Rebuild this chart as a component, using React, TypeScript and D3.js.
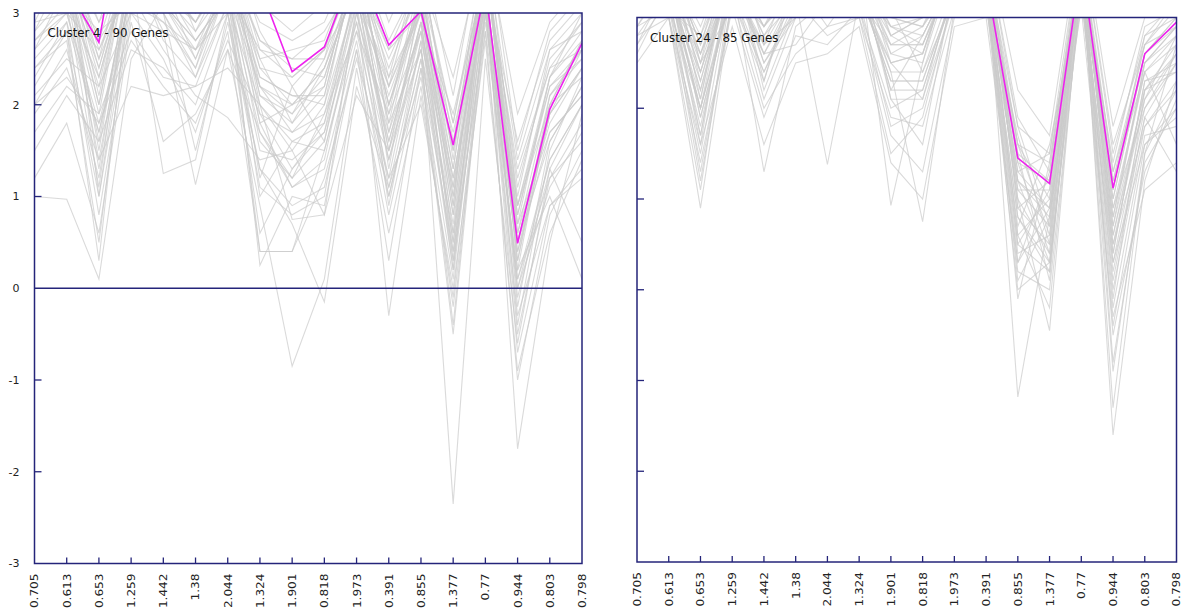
import React from "react";
import * as d3 from "d3";

const categories = ["0.705","0.613","0.653","1.259","1.442","1.38","2.044","1.324","1.901","0.818","1.973","0.391","0.855","1.377","0.77","0.944","0.803","0.798"];
const yTickValues = [3, 2, 1, 0, -1, -2, -3];

const leftTitle = "Cluster 4 - 90 Genes";
const rightTitle = "Cluster 24 - 85 Genes";

const leftHighlight = [3.4, 3.28, 2.68, 4.7, 3.5, 3.6, 3.4, 3.29, 2.36, 2.63, 3.54, 2.65, 3.02, 1.56, 3.27, 0.49, 1.95, 2.67];
const rightHighlight = [3.5, 3.6, 3.4, 3.7, 3.5, 3.6, 3.7, 3.5, 3.6, 3.4, 3.6, 3.43, 1.45, 1.17, 3.6, 1.12, 2.6, 2.95];

const leftGenes = [
  [3.4, 3.3, 2.2, 3.8, 3.2, 2.9, 3.6, 2.1, 1.8, 2.4, 3.5, 2.0, 3.1, 0.9, 3.6, 0.6, 2.1, 2.6],
  [2.8, 3.5, 1.5, 3.6, 3.0, 2.4, 3.3, 1.6, 1.2, 1.9, 3.2, 1.4, 2.8, 0.2, 3.4, -0.2, 1.6, 2.2],
  [3.1, 3.2, 2.7, 3.3, 3.5, 3.1, 3.8, 2.6, 2.5, 2.8, 3.4, 2.5, 3.3, 1.8, 3.5, 1.2, 2.4, 2.9],
  [1.0, 0.97, 0.1, 2.5, 3.1, 2.6, 3.2, 0.4, 0.4, 1.5, 2.9, 1.0, 2.5, -0.4, 3.1, -0.5, 1.2, 1.8],
  [2.0, 2.6, 1.2, 3.4, 1.25, 1.4, 3.0, 1.1, 0.8, 1.0, 3.0, 1.6, 2.9, 0.8, 3.3, 0.3, 1.9, 2.4],
  [3.6, 3.8, 2.9, 3.9, 3.4, 3.3, 3.9, 2.8, 2.2, 2.6, 3.7, 2.3, 3.6, 1.4, 3.9, 0.9, 2.3, 3.0],
  [2.5, 2.9, 0.8, 3.0, 2.8, 1.13, 2.6, 0.9, -0.85, 0.1, 2.4, 0.6, 2.2, -0.2, 2.8, -1.0, 0.8, 1.5],
  [1.7, 2.2, 1.9, 2.8, 2.3, 2.2, 3.1, 2.0, 1.6, 1.5, 2.8, 1.2, 2.9, 0.5, 3.2, 0.1, 1.4, 2.0],
  [3.2, 3.6, 2.4, 3.7, 3.6, 2.8, 3.5, 1.8, 2.0, 2.2, 3.6, 1.9, 3.4, 1.1, 3.7, 0.5, 2.0, 2.7],
  [2.9, 3.0, 1.8, 3.2, 2.6, 2.1, 1.86, 1.4, 1.5, 0.8, 3.1, 2.2, 3.0, 1.2, 3.1, 0.8, 2.2, 2.5],
  [3.3, 3.7, 2.6, 3.5, 3.3, 3.0, 3.7, 2.4, 2.3, 2.6, 3.5, 2.6, 3.0, 1.5, 3.3, 0.5, 1.9, 2.6],
  [2.2, 2.8, 1.0, 3.1, 2.9, 2.6, 3.4, 0.25, 1.0, 0.9, 2.6, 0.3, 2.4, -0.5, 3.0, -0.3, 0.9, 1.2],
  [3.5, 3.1, 2.3, 3.6, 3.3, 2.7, 3.2, 2.2, 1.9, 2.5, 3.8, 1.7, 3.2, 0.6, 3.5, 1.0, 2.6, 2.8],
  [2.6, 3.3, 1.6, 3.5, 3.7, 3.2, 3.6, 1.9, 1.3, 1.8, 3.3, 0.9, 2.7, -2.35, 2.5, -0.6, 1.3, 0.5],
  [3.0, 3.4, 2.0, 3.9, 3.1, 2.5, 3.3, 2.3, 2.1, 2.0, 3.2, 2.1, 3.1, 1.0, 3.4, -1.75, 0.5, 1.9],
  [1.9, 2.4, 1.4, 2.2, 2.1, 2.2, 2.4, 2.0, 0.75, 0.8, 2.1, 1.5, 2.6, 0.3, 2.9, 0.4, 1.7, 2.1],
  [3.7, 3.9, 3.2, 4.0, 3.8, 3.6, 4.0, 3.1, 2.8, 3.1, 3.9, 2.9, 3.7, 2.1, 4.0, 1.5, 2.8, 3.2],
  [2.4, 2.7, 0.5, 3.3, 3.0, 1.5, 2.9, 1.3, 0.7, -0.15, 2.2, 1.1, 2.3, 0.1, 3.2, 0.0, 1.1, 1.7],
  [3.1, 3.5, 2.5, 3.4, 3.5, 3.1, 3.4, 2.5, 2.6, 2.7, 3.6, 2.2, 3.5, 1.6, 3.6, 1.1, 2.5, 2.9],
  [2.7, 3.1, 1.1, 3.6, 2.7, 2.3, 3.1, 1.5, 1.4, 1.7, 3.3, 1.8, 2.6, 0.7, 3.3, -0.4, 1.5, 2.3],
  [3.4, 3.2, 2.8, 3.1, 3.3, 2.9, 3.5, 2.7, 2.4, 2.3, 3.4, 2.4, 3.3, 1.3, 3.7, 0.7, 2.3, 2.8],
  [1.2, 1.8, 0.6, 2.9, 1.6, 1.9, 2.6, 1.7, 1.1, 1.3, 2.7, 0.8, 2.4, 0.4, 2.8, 0.2, 1.0, 0.1],
  [2.9, 3.6, 2.1, 3.8, 3.4, 3.4, 3.8, 2.2, 1.7, 2.1, 3.5, 2.0, 3.0, 0.8, 3.5, 0.6, 1.8, 2.4],
  [3.3, 3.4, 1.3, 3.5, 3.2, 2.8, 3.3, 1.2, 2.2, 1.6, 3.1, -0.3, 2.1, -0.1, 3.0, 0.5, 1.6, 2.2],
  [2.3, 2.9, 1.7, 3.2, 2.9, 2.4, 3.5, 2.4, 2.0, 2.4, 3.3, 1.6, 2.9, 1.9, 3.4, 1.3, 2.4, 2.6],
  [3.6, 3.7, 2.5, 3.9, 3.6, 3.2, 3.7, 2.0, 1.5, 2.0, 3.6, 1.3, 3.2, 0.9, 3.8, 0.2, 2.0, 2.7],
  [2.1, 2.5, 2.2, 3.0, 2.5, 1.7, 2.8, 0.4, 0.4, 1.2, 2.5, 1.2, 2.0, 0.0, 2.7, -0.9, 0.6, 1.4],
  [3.0, 3.3, 1.9, 3.7, 3.5, 3.0, 3.6, 2.1, 1.9, 2.3, 3.4, 1.5, 3.1, 0.3, 3.6, 0.3, 2.1, 2.5],
  [2.6, 3.0, 2.6, 3.3, 3.1, 2.7, 3.2, 2.6, 2.3, 2.6, 3.2, 2.3, 3.0, 1.7, 3.3, 1.6, 2.7, 3.1],
  [3.2, 3.8, 1.0, 3.4, 3.3, 2.5, 3.4, 1.8, 1.1, 1.4, 3.0, 1.7, 2.8, 0.5, 3.4, -0.1, 1.3, 2.0],
  [1.5, 2.1, 1.6, 2.6, 2.4, 2.0, 3.0, 1.3, 0.9, 1.1, 2.6, 1.0, 2.5, 0.6, 3.0, 0.1, 1.2, 1.6],
  [3.5, 3.6, 2.7, 3.8, 3.2, 3.0, 3.6, 2.9, 2.7, 2.9, 3.7, 2.7, 3.4, 2.3, 3.8, 1.9, 2.9, 3.3],
  [2.8, 3.2, 1.4, 3.3, 3.0, 2.3, 3.3, 1.0, 1.6, 1.8, 3.1, 1.1, 2.7, 1.1, 3.2, 0.7, 1.7, 2.1],
  [3.1, 3.4, 2.4, 3.6, 3.4, 2.9, 3.5, 2.3, 2.1, 2.1, 3.5, 2.0, 3.2, 1.5, 3.5, 0.9, 2.2, 2.6],
  [2.4, 2.8, 0.3, 3.5, 2.8, 2.6, 3.0, 0.6, 1.3, 1.7, 2.9, 1.4, 2.6, 0.2, 3.1, -0.7, 0.9, 1.3],
  [3.3, 3.5, 2.0, 3.7, 3.6, 3.3, 3.7, 2.5, 1.8, 2.2, 3.6, 1.8, 3.3, 1.0, 3.6, 0.4, 1.9, 2.4],
  [2.0, 2.3, 1.8, 2.7, 2.2, 1.8, 2.7, 1.9, 1.7, 1.9, 2.8, 1.9, 2.8, 1.2, 3.1, 0.9, 2.0, 2.3],
  [3.4, 3.6, 2.9, 3.5, 3.0, 3.2, 3.6, 2.7, 2.5, 2.5, 3.4, 2.6, 3.4, 1.8, 3.7, 1.4, 2.6, 3.0],
  [2.7, 3.0, 1.7, 3.4, 3.1, 2.7, 3.2, 1.7, 1.2, 1.6, 3.2, 1.5, 2.9, 0.4, 3.3, 0.0, 1.4, 2.0],
  [3.0, 3.5, 2.3, 3.6, 3.3, 2.9, 3.4, 2.2, 2.0, 2.4, 3.3, 2.2, 3.1, 1.3, 3.5, 0.8, 2.3, 2.7],
];

const rightGenes = [
  [3.4, 3.2, 2.4, 3.5, 2.6, 3.3, 3.1, 3.6, 2.8, 3.0, 3.4, 3.6, 1.2, 0.9, 3.7, 0.9, 2.4, 2.8],
  [3.1, 3.5, 1.9, 3.3, 2.9, 3.6, 3.4, 3.3, 2.5, 2.6, 3.7, 3.3, 0.5, 1.1, 3.5, 0.3, 2.0, 2.5],
  [2.8, 3.3, 2.1, 3.7, 3.1, 3.0, 3.6, 3.5, 3.1, 2.4, 3.2, 3.5, 1.6, 0.6, 3.8, 1.3, 2.7, 3.1],
  [3.6, 3.0, 0.9, 3.2, 2.3, 3.4, 2.9, 3.4, 2.2, 2.8, 3.5, 3.2, 0.0, 0.3, 3.3, -0.4, 1.6, 2.0],
  [3.2, 3.6, 2.7, 3.8, 3.3, 3.5, 3.8, 3.7, 3.2, 3.3, 3.6, 3.8, 1.8, 1.5, 3.9, 1.5, 2.8, 3.2],
  [2.9, 3.1, 1.5, 3.4, 1.3, 2.9, 3.2, 3.1, 2.0, 2.2, 3.3, 3.4, 0.8, 0.2, 3.6, 0.6, 2.2, 2.6],
  [3.5, 3.4, 2.2, 3.6, 2.8, 3.2, 1.38, 3.2, 2.7, 2.9, 3.5, 3.6, -1.18, 0.8, 3.4, 0.1, 1.9, 1.3],
  [3.0, 3.7, 2.5, 3.1, 3.0, 3.7, 3.5, 3.6, 0.93, 2.5, 3.8, 3.5, 1.0, -0.45, 3.5, 0.8, 2.5, 2.9],
  [3.3, 3.2, 1.7, 3.5, 2.5, 3.1, 3.3, 3.4, 2.4, 0.75, 3.1, 3.3, 0.3, 1.3, 3.7, -1.6, 1.2, 2.3],
  [2.7, 3.4, 2.0, 3.3, 2.7, 3.3, 3.0, 3.3, 2.9, 2.7, 3.6, 3.7, 1.4, 0.4, 3.6, -1.3, 1.5, 2.7],
  [3.4, 3.6, 2.6, 3.7, 3.2, 3.5, 3.7, 3.5, 3.0, 3.1, 3.4, 3.4, 1.5, 1.2, 3.6, 1.1, 2.6, 2.9],
  [3.1, 3.0, 1.1, 3.4, 2.1, 3.0, 3.1, 3.2, 1.8, 2.0, 3.2, 3.5, 0.6, 1.0, 3.4, 0.4, 2.3, 2.4],
  [3.7, 3.5, 2.8, 3.9, 3.4, 3.6, 3.6, 3.8, 3.3, 3.4, 3.7, 3.9, 2.2, 1.7, 4.0, 1.8, 3.0, 3.3],
  [2.6, 3.3, 1.3, 3.2, 2.4, 3.2, 2.8, 3.0, 1.5, 1.9, 3.3, 3.2, 0.2, 0.0, 3.3, -0.2, 1.7, 1.8],
  [3.2, 3.7, 2.3, 3.6, 2.9, 3.4, 3.4, 3.6, 2.6, 2.8, 3.5, 3.6, 1.1, 0.7, 3.7, 0.5, 2.1, 2.6],
  [3.5, 3.1, 2.0, 3.3, 2.6, 2.7, 3.2, 3.3, 2.3, 2.3, 3.3, 3.4, -0.1, 1.4, 3.5, 1.0, 2.6, 3.0],
  [2.9, 3.5, 2.6, 3.5, 3.1, 3.3, 3.5, 3.4, 2.8, 2.6, 3.6, 3.3, 1.7, 0.5, 3.6, 0.0, 1.8, 2.2],
  [3.3, 3.4, 1.6, 3.7, 2.2, 3.1, 3.3, 3.5, 2.1, 1.6, 3.4, 3.7, 0.9, 1.2, 3.8, -0.8, 1.4, 2.0],
  [3.6, 3.6, 2.9, 3.8, 3.5, 3.7, 3.7, 3.7, 3.1, 3.2, 3.8, 3.5, 1.3, 0.9, 3.5, 1.4, 2.9, 3.1],
  [3.0, 3.2, 1.8, 3.4, 2.7, 3.0, 3.0, 3.2, 2.5, 2.1, 3.2, 3.3, 0.4, 0.6, 3.4, 0.2, 1.9, 2.5],
  [3.4, 3.5, 2.4, 3.6, 3.0, 3.5, 3.5, 3.6, 2.9, 3.0, 3.5, 3.6, 1.5, 0.1, 3.7, 0.7, 2.2, 2.7],
  [2.8, 3.0, 1.4, 3.1, 1.9, 2.8, 2.7, 3.1, 1.7, 1.3, 3.0, 3.2, 0.7, 1.6, 3.3, 1.2, 2.4, 1.6],
  [3.2, 3.4, 2.2, 3.5, 2.8, 3.4, 3.3, 3.4, 2.6, 2.5, 3.6, 3.5, 1.0, 0.4, 3.6, -0.5, 1.3, 2.1],
  [3.5, 3.8, 2.5, 3.9, 3.2, 3.6, 3.6, 3.7, 3.0, 2.9, 3.7, 3.8, 1.9, 1.3, 3.9, 1.6, 2.7, 3.2],
  [3.1, 3.3, 2.0, 3.4, 2.6, 3.2, 3.2, 3.3, 2.4, 2.4, 3.4, 3.4, 0.1, 0.8, 3.5, 0.9, 2.0, 2.6],
  [2.7, 3.2, 1.2, 3.2, 2.0, 2.6, 2.9, 3.0, 1.9, 1.8, 3.1, 3.1, 1.2, 0.3, 3.2, 0.3, 1.6, 1.9],
  [3.3, 3.6, 2.7, 3.7, 3.3, 3.5, 3.5, 3.6, 3.2, 3.1, 3.6, 3.7, 1.6, 1.0, 3.8, 1.1, 2.8, 3.0],
  [3.6, 3.3, 2.3, 3.5, 2.9, 3.3, 3.4, 3.5, 2.7, 2.7, 3.5, 3.5, 0.6, -0.2, 3.4, -0.1, 2.2, 2.4],
  [3.0, 3.5, 1.9, 3.3, 2.4, 3.1, 3.1, 3.4, 2.2, 2.2, 3.3, 3.3, 1.3, 1.5, 3.6, 0.6, 2.1, 2.8],
  [3.4, 3.1, 2.8, 3.6, 3.1, 3.4, 3.6, 3.8, 2.8, 3.0, 3.7, 3.6, 1.8, 0.7, 3.7, 1.3, 2.5, 2.9],
  [2.5, 3.0, 1.6, 2.9, 1.6, 2.5, 2.6, 2.9, 1.4, 1.0, 2.9, 3.0, 0.3, 0.9, 3.1, -0.3, 1.1, 1.4],
  [3.2, 3.4, 2.5, 3.5, 3.0, 3.3, 3.3, 3.5, 2.9, 2.8, 3.5, 3.4, 1.1, 1.1, 3.5, 0.8, 2.4, 2.7],
  [3.5, 3.7, 2.1, 3.8, 2.7, 3.6, 3.7, 3.6, 2.5, 2.6, 3.6, 3.7, 0.9, 0.5, 3.8, 0.4, 2.3, 2.5],
  [3.1, 3.2, 2.6, 3.4, 3.2, 3.2, 3.2, 3.2, 3.0, 2.9, 3.4, 3.5, 1.4, 1.2, 3.6, 1.0, 2.6, 3.0],
  [2.9, 3.4, 1.7, 3.6, 2.5, 3.0, 3.4, 3.3, 2.3, 2.3, 3.3, 3.4, 0.5, 0.2, 3.5, -0.9, 1.5, 2.2],
  [3.3, 3.5, 2.4, 3.5, 2.9, 3.4, 3.5, 3.4, 2.7, 2.7, 3.5, 3.6, 1.6, 1.4, 3.7, 1.2, 2.7, 2.9],
  [3.6, 3.3, 2.0, 3.7, 2.3, 3.5, 3.3, 3.7, 2.1, 2.1, 3.4, 3.3, 0.8, 0.3, 3.4, 0.5, 1.8, 2.3],
  [3.0, 3.6, 2.7, 3.4, 3.3, 3.1, 3.6, 3.5, 3.1, 3.0, 3.6, 3.5, 1.2, 0.8, 3.6, 0.7, 2.5, 2.8],
];

const AXIS = "#24247a";
const FONT = "'DejaVu Sans', Verdana, sans-serif";

type PanelProps = {
  id: string;
  x0: number; x1: number; y0: number; y1: number;
  title: string;
  genes: number[][];
  highlight: number[];
  showYLabels: boolean;
  showZero: boolean;
};

function Panel(p: PanelProps) {
  const idx = categories.map((_, i) => i);
  const x = d3.scalePoint<number>().domain(idx).range([p.x0, p.x1]);
  const y = d3.scaleLinear().domain([-3, 3]).range([p.y1, p.y0]);
  const line = d3.line<number>().x((_, i) => x(i) as number).y((d) => y(d));
  const clipId = `clip-${p.id}`;
  const innerY = p.showZero ? [2, 1, -1, -2] : [2, 1, 0, -1, -2];
  return (
    <g>
      <defs>
        <clipPath id={clipId}>
          <rect x={p.x0} y={p.y0} width={p.x1 - p.x0} height={p.y1 - p.y0} />
        </clipPath>
      </defs>
      <g clipPath={`url(#${clipId})`}>
        {p.genes.map((g, k) => (
          <path key={k} d={line(g) || ""} fill="none" stroke="#cbcbcb" strokeOpacity={0.7} strokeWidth={1.1} />
        ))}
        <path d={line(p.highlight) || ""} fill="none" stroke="#ee22ee" strokeWidth={1.6} />
      </g>
      {p.showZero && (
        <line x1={p.x0} x2={p.x1} y1={y(0)} y2={y(0)} stroke={AXIS} strokeWidth={1.4} />
      )}
      <rect x={p.x0} y={p.y0} width={p.x1 - p.x0} height={p.y1 - p.y0} fill="none" stroke={AXIS} strokeWidth={1.5} />
      {innerY.map((v) => (
        <line key={v} x1={p.x0} x2={p.x0 + 7} y1={y(v)} y2={y(v)} stroke={AXIS} strokeWidth={1.3} />
      ))}
      {idx.slice(1, idx.length - 1).map((i) => (
        <line key={i} x1={x(i)} x2={x(i)} y1={p.y1} y2={p.y1 - 6} stroke={AXIS} strokeWidth={1.3} />
      ))}
      {p.showYLabels && yTickValues.map((v) => (
        <text key={v} x={p.x0 - 15} y={y(v)} dy="0.36em" textAnchor="end" fontFamily={FONT} fontSize={11} fill="#222">
          {v}
        </text>
      ))}
      {categories.map((c, i) => (
        <text key={i} transform={`translate(${x(i)},${p.y1 + 10}) rotate(-90) scale(1.1,1)`} dy="0.36em" textAnchor="end" fontFamily={FONT} fontSize={11} fill="#222">
          {c}
        </text>
      ))}
      <text x={p.x0 + 13} y={p.y0 + 24} fontFamily={FONT} fontSize={11.8} fill="#111">
        {p.title}
      </text>
    </g>
  );
}

export default function App() {
  return (
    <svg width={1182} height={615} style={{ position: "absolute", left: 0, top: 0, background: "#fff" }}>
      <rect x={0} y={0} width={1182} height={615} fill="#fff" />
      <Panel id="l" x0={34.5} x1={582} y0={13} y1={563.5} title={leftTitle} genes={leftGenes} highlight={leftHighlight} showYLabels={true} showZero={true} />
      <Panel id="r" x0={637} x1={1176.5} y0={17.5} y1={562} title={rightTitle} genes={rightGenes} highlight={rightHighlight} showYLabels={false} showZero={false} />
    </svg>
  );
}
